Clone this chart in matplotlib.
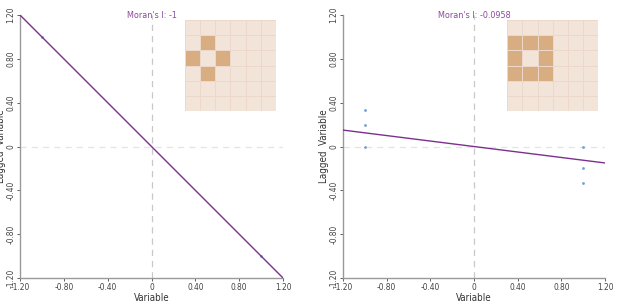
import numpy as np
import matplotlib.pyplot as plt

plt.rcParams['font.family'] = ['DejaVu Sans']
plt.rcParams['font.stretch'] = 'condensed'

# 数据
ticks = [-1.2, -0.8, -0.4, 0, 0.4, 0.8, 1.2]
tick_labels = ['-1.20', '-0.80', '-0.40', '0', '0.40', '0.80', '1.20']

left_title = "Moran's I: -1"
left_x = [-1, 1]
left_y = [1, -1]
left_fit_x = [-1.2, 1.2]
left_fit_y = [1.2, -1.2]
left_grid = [
    [0, 0, 0, 0, 0, 0],
    [0, 1, 0, 0, 0, 0],
    [1, 0, 1, 0, 0, 0],
    [0, 1, 0, 0, 0, 0],
    [0, 0, 0, 0, 0, 0],
    [0, 0, 0, 0, 0, 0],
]

right_title = "Moran's I: -0.0958"
right_x = [-1, -1, -1, 1, 1, 1]
right_y = [0.333, 0.2, 0, 0, -0.2, -0.333]
right_fit_x = [-1.2, 1.2]
right_fit_y = [0.15, -0.15]
right_grid = [
    [0, 0, 0, 0, 0, 0],
    [1, 1, 1, 0, 0, 0],
    [1, 0, 1, 0, 0, 0],
    [1, 1, 1, 0, 0, 0],
    [0, 0, 0, 0, 0, 0],
    [0, 0, 0, 0, 0, 0],
]

line_color = '#7d2f8e'
point_color = '#6f9fd6'
light_cell = '#f3e4d9'
dark_cell = '#d9ad82'

fig = plt.figure(figsize=(6.18, 3.04), dpi=100)
ax1 = fig.add_axes([0.0324, 0.0855, 0.4256, 0.865])
ax2 = fig.add_axes([0.555, 0.0855, 0.424, 0.865])


def draw(ax, title, px, py, fx, fy, grid):
    ax.axvline(0, color='#c8c8c8', lw=0.9, ls=(0, (5, 4)), zorder=1)
    ax.axhline(0, color='#e4e4e4', lw=0.9, ls=(0, (5, 4)), zorder=1)
    ax.scatter(px, py, s=4, color=point_color, zorder=2, linewidths=0)
    ax.plot(fx, fy, color=line_color, lw=1.0, zorder=3)
    ax.set_xlim(-1.2, 1.2)
    ax.set_ylim(-1.2, 1.2)
    ax.set_xticks(ticks)
    ax.set_xticklabels(tick_labels)
    ax.set_yticks(ticks)
    ax.set_yticklabels(tick_labels, rotation=90, va='center')
    ax.tick_params(labelsize=6, colors='#444444', length=2, width=0.6, pad=1.5)
    for s in ['top', 'right']:
        ax.spines[s].set_visible(False)
    for s in ['left', 'bottom']:
        ax.spines[s].set_color('#999999')
        ax.spines[s].set_linewidth(1.0)
    ax.set_xlabel('Variable', fontsize=7, color='#333333', labelpad=1)
    ax.set_ylabel('Lagged  Variable', fontsize=7, color='#333333', labelpad=0)
    ax.text(0, 1.0, title, transform=ax.get_xaxis_transform(), ha='center', va='center',
            fontsize=6.5, color='#8a4a9c')

    ins = ax.inset_axes([0.627, 0.635, 0.346, 0.346])
    g = np.array(grid)[::-1]
    cmap = plt.matplotlib.colors.ListedColormap([light_cell, dark_cell])
    ins.pcolormesh(g, cmap=cmap, vmin=0, vmax=1, edgecolors='#ecd8ca', linewidth=0.4)
    ins.set_xticks([])
    ins.set_yticks([])
    for s in ins.spines.values():
        s.set_visible(False)


draw(ax1, left_title, left_x, left_y, left_fit_x, left_fit_y, left_grid)
draw(ax2, right_title, right_x, right_y, right_fit_x, right_fit_y, right_grid)

plt.savefig('out.png', dpi=100)
